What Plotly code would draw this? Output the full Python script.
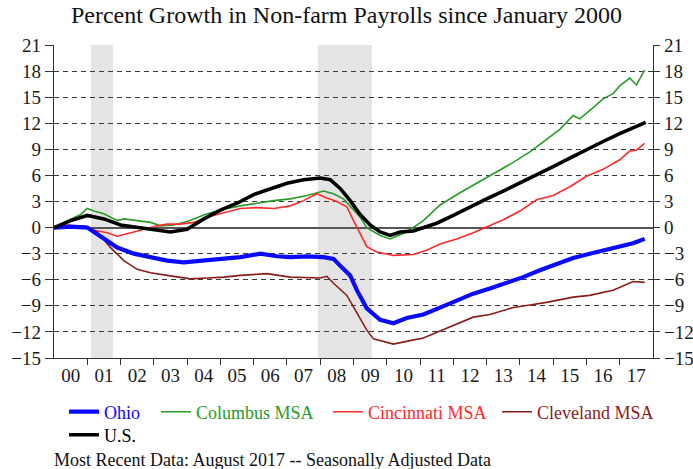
import plotly.graph_objects as go

FONT = "Liberation Serif"

# ---- data (x = years since Jan 2000, y = % growth since Jan 2000) ----
year_labels = ["00", "01", "02", "03", "04", "05", "06", "07", "08",
               "09", "10", "11", "12", "13", "14", "15", "16", "17"]
y_ticks = [-15, -12, -9, -6, -3, 0, 3, 6, 9, 12, 15, 18, 21]

recession_start = [1.11, 7.93]
recession_end = [1.77, 9.55]

us_x = [0.0, 0.5, 1.0, 1.5, 2.0, 2.5, 3.0, 3.5, 4.0, 4.5, 5.0, 5.5, 6.0, 6.5, 7.0,
        7.5, 8.0, 8.3, 8.6, 8.9, 9.2, 9.5, 9.8, 10.1, 10.4, 10.8, 11.1, 11.5, 12.0,
        12.5, 13.0, 13.5, 14.0, 14.5, 15.0, 15.5, 16.0, 16.5, 17.0, 17.5, 17.78]
us_y = [0.0, 0.8, 1.4, 1.0, 0.3, 0.0, -0.3, -0.5, -0.2, 1.0, 2.0, 2.8, 3.8, 4.5, 5.1,
        5.5, 5.7, 5.5, 4.5, 3.1, 1.5, 0.3, -0.5, -0.9, -0.5, -0.4, 0.0, 0.5, 1.4,
        2.4, 3.3, 4.2, 5.1, 6.0, 7.0, 8.0, 9.0, 9.9, 10.8, 11.6, 12.1]

columbus_x = [0.0, 0.4, 0.8, 1.0, 1.2, 1.5, 1.9, 2.1, 2.5, 2.9, 3.2, 3.6, 4.0, 4.2,
              4.6, 5.1, 5.6, 6.1, 6.6, 7.1, 7.6, 8.1, 8.4, 8.7, 8.9, 9.2, 9.4, 9.8,
              10.1, 10.6, 11.1, 11.6, 12.2, 12.8, 13.3, 13.8, 14.3, 14.8, 15.2, 15.6,
              15.8, 16.2, 16.5, 16.8, 17.0, 17.3, 17.5, 17.75]
columbus_y = [0.0, 0.8, 1.5, 2.2, 1.9, 1.6, 0.8, 1.0, 0.8, 0.6, 0.2, 0.3, 0.7, 1.0,
              1.6, 2.1, 2.5, 2.8, 3.1, 3.3, 3.7, 4.2, 3.9, 3.3, 2.5, 1.2, 0.0, -0.9,
              -1.3, -0.5, 0.8, 2.6, 4.0, 5.3, 6.4, 7.5, 8.7, 10.1, 11.3, 12.9,
              12.5, 13.8, 14.8, 15.4, 16.3, 17.2, 16.4, 18.1]

cincinnati_x = [0.0, 0.4, 0.8, 1.2, 1.6, 1.9, 2.4, 2.8, 3.1, 3.4, 3.8, 4.2, 4.6, 5.1,
                5.6, 6.1, 6.6, 7.1, 7.5, 7.9, 8.2, 8.5, 8.8, 9.0, 9.2, 9.4, 9.7, 10.2,
                10.8, 11.2, 11.6, 12.1, 12.6, 13.0, 13.5, 14.0, 14.5, 15.0, 15.5, 16.0,
                16.5, 17.0, 17.3, 17.5, 17.75]
cincinnati_y = [0.0, 0.3, 0.1, -0.3, -0.6, -1.0, -0.5, -0.1, 0.2, 0.4, 0.4, 0.6, 1.2, 1.7,
                2.2, 2.3, 2.2, 2.5, 3.1, 3.9, 3.4, 3.0, 2.4, 0.8, -0.8, -2.2, -2.8, -3.2,
                -3.1, -2.6, -1.9, -1.3, -0.6, 0.1, 0.9, 1.9, 3.2, 3.7, 4.7, 5.9,
                6.7, 7.8, 8.8, 8.9, 9.7]

cleveland_x = [0.0, 0.5, 0.9, 1.3, 1.7, 2.1, 2.5, 2.9, 3.4, 3.7, 4.1, 4.6, 5.1, 5.6,
               6.4, 7.1, 7.6, 8.0, 8.2, 8.4, 8.8, 9.1, 9.4, 9.6, 10.2, 10.7, 11.1, 11.6,
               12.1, 12.6, 13.1, 13.8, 14.3, 14.8, 15.6, 16.1, 16.8, 17.4, 17.75]
cleveland_y = [0.0, 0.2, 0.2, -0.5, -2.3, -3.8, -4.8, -5.2, -5.5, -5.7, -5.9, -5.8, -5.7, -5.5,
               -5.3, -5.7, -5.8, -5.8, -5.6, -6.4, -7.8, -9.8, -11.8, -12.8, -13.4, -13.0, -12.7, -11.9,
               -11.1, -10.3, -10.0, -9.2, -8.9, -8.6, -8.0, -7.8, -7.2, -6.2, -6.3]

ohio_x = [0.0, 0.5, 1.0, 1.4, 1.9, 2.4, 2.9, 3.4, 3.9, 4.4, 4.9, 5.6, 6.2, 6.7, 7.1,
          7.6, 8.1, 8.4, 8.6, 8.9, 9.1, 9.4, 9.8, 10.2, 10.6, 11.1, 11.6, 12.1, 12.6,
          13.1, 13.6, 14.1, 14.6, 15.1, 15.6, 16.1, 16.6, 17.1, 17.4, 17.75]
ohio_y = [0.0, 0.1, 0.0, -1.0, -2.3, -3.0, -3.4, -3.8, -4.0, -3.8, -3.6, -3.4, -3.0, -3.3, -3.4,
          -3.3, -3.4, -3.6, -4.4, -5.5, -7.2, -9.3, -10.6, -11.0, -10.4, -10.0, -9.2, -8.4, -7.6,
          -7.0, -6.4, -5.7, -4.9, -4.2, -3.5, -3.0, -2.5, -2.0, -1.8, -1.3]

W, H = 693, 469
ML, MR, MT, MB = 54, 40, 45, 111
PW, PH = W - ML - MR, H - MT - MB

# name, x, y, colour, width, legend id, legend left px, legend row centre px
series = [
    ("Columbus MSA", columbus_x, columbus_y, "#2a9a2a", 1.6, "legend2", 156, 412),
    ("Cincinnati MSA", cincinnati_x, cincinnati_y, "#ff2a2a", 1.6, "legend3", 328, 412),
    ("Cleveland MSA", cleveland_x, cleveland_y, "#8b1c1c", 1.6, "legend4", 497, 412),
    ("Ohio", ohio_x, ohio_y, "#0a0aff", 4.2, "legend", 64, 412),
    ("U.S.", us_x, us_y, "#000000", 3.6, "legend5", 64, 435),
]

fig = go.Figure()

for s, e in zip(recession_start, recession_end):
    fig.add_shape(type="rect", xref="x", yref="paper", x0=s, x1=e, y0=0, y1=1,
                  fillcolor="#e4e4e4", line_width=0, layer="below")

legends = {}
for name, xs, ys, col, w, leg, lx, ly in series:
    fig.add_trace(go.Scatter(
        x=xs, y=ys, mode="lines", line=dict(color=col, width=w),
        name=f"<span style='color:{col}'>{name}</span>", legend=leg))
    legends[leg] = dict(orientation="h", x=(lx - ML) / PW, xanchor="left",
                        y=-(ly - (MT + PH)) / PH, yanchor="middle",
                        font=dict(family=FONT, size=18),
                        bgcolor="rgba(0,0,0,0)", itemwidth=30)

fig.add_trace(go.Scatter(x=[None], y=[None], yaxis="y2", showlegend=False,
                         hoverinfo="skip"))

axis_col = "#333333"
tickfont = dict(family=FONT, size=19, color="#1a1a1a")

fig.update_layout(
    width=W, height=H,
    margin=dict(l=ML, r=MR, t=MT, b=MB),
    paper_bgcolor="white", plot_bgcolor="white",
    title=dict(text="Percent Growth in Non-farm Payrolls since January 2000",
               x=0.5, xref="container", xanchor="center",
               y=1 - 15 / H, yref="container", yanchor="middle",
               font=dict(family=FONT, size=24, color="#111111")),
    xaxis=dict(range=[0, 18], showline=True, linecolor=axis_col, linewidth=1.3,
               tickmode="array", tickvals=[i + 0.5 for i in range(len(year_labels))],
               ticktext=year_labels, ticks="", showgrid=False, zeroline=False,
               tickfont=tickfont, automargin=False,
               minor=dict(tickmode="array", tickvals=list(range(1, 18)),
                          ticks="outside", ticklen=6, tickcolor=axis_col,
                          tickwidth=1.2, showgrid=False)),
    yaxis=dict(range=[-15, 21], tickmode="array", tickvals=y_ticks,
               ticks="outside", ticklen=8, tickcolor=axis_col, tickwidth=1.2,
               showline=True, linecolor=axis_col, linewidth=1.3,
               showgrid=True, gridcolor="#3a3a3a", gridwidth=1, griddash="5px,4px",
               zeroline=True, zerolinecolor="#555555", zerolinewidth=1.6,
               tickfont=tickfont, automargin=False),
    yaxis2=dict(range=[-15, 21], overlaying="y", side="right", tickmode="array",
                tickvals=y_ticks, ticks="outside", ticklen=6, tickcolor=axis_col,
                tickwidth=1.2, showline=True, linecolor=axis_col, linewidth=1.3,
                showgrid=False, zeroline=False, tickfont=tickfont, automargin=False),
    showlegend=True,
    annotations=[dict(text="Most Recent Data: August 2017 -- Seasonally Adjusted Data",
                      xref="paper", yref="paper", x=(52 - ML) / PW,
                      y=-(460 - (MT + PH)) / PH,
                      xanchor="left", yanchor="middle", showarrow=False,
                      font=dict(family=FONT, size=18, color="#111111"))],
)
fig.update_layout(**legends)

fig.write_html("out.html",
               config={"displayModeBar": False},
               post_script="document.body.style.margin='0px';"
                           "document.body.style.overflow='hidden';")
